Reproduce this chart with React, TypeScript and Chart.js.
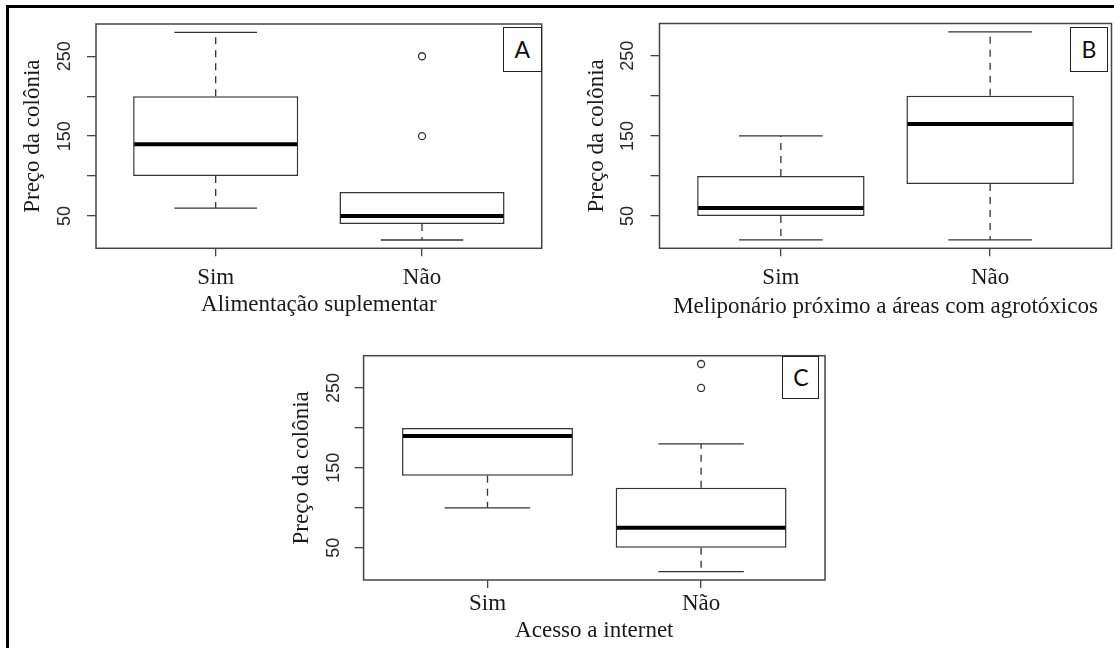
import React, { useEffect, useRef } from "react";
import { Chart, registerables } from "chart.js";

Chart.register(...registerables);

// ---------- data ----------
const categories = ["Sim", "Não"];
const yTickValues = [50, 100, 150, 200, 250];
const yTickLabels = ["50", "", "150", "", "250"];
const yAxisTitle = "Preço da colônia";

// Panel A – Alimentação suplementar
const titleA = "Alimentação suplementar";
const letterA = "A";
const lowA = [60, 20];
const q1A = [100, 40];
const medA = [140, 50];
const q3A = [200, 80];
const highA = [280, 80];
const outA = [[], [150, 250]];

// Panel B – Meliponário próximo a áreas com agrotóxicos
const titleB = "Meliponário próximo a áreas com agrotóxicos";
const letterB = "B";
const lowB = [20, 20];
const q1B = [50, 90];
const medB = [60, 165];
const q3B = [100, 200];
const highB = [150, 280];
const outB = [[], []];

// Panel C – Acesso a internet
const titleC = "Acesso a internet";
const letterC = "C";
const lowC = [100, 20];
const q1C = [140, 50];
const medC = [190, 75];
const q3C = [200, 125];
const highC = [200, 180];
const outC = [[], [250, 280]];

// ---------- styling ----------
const SERIF = "'Liberation Serif', 'Times New Roman', serif";
const SANS = "'Liberation Sans', Arial, sans-serif";
const LINE = "#333";
const AXIS = "#444";
const TEXT = "#1a1a1a";

type Panel = {
  title: string;
  low: number[];
  q1: number[];
  med: number[];
  q3: number[];
  high: number[];
  out: number[][];
};

type Layout = {
  left: number; top: number; width: number; height: number;
  areaLeft: number; areaRight: number; areaTop: number; areaBottom: number;
  yTitlePad: number; xTitlePad: number; xTickPad: number; yTickPad: number;
};

// R-style axis ranges (data range extended by 4%)
function yRange(p: Panel[]) {
  let lo = Infinity, hi = -Infinity;
  p.forEach((d) => {
    d.low.forEach((v) => (lo = Math.min(lo, v)));
    d.high.forEach((v) => (hi = Math.max(hi, v)));
    d.out.forEach((a) => a.forEach((v) => { lo = Math.min(lo, v); hi = Math.max(hi, v); }));
  });
  const pad = (hi - lo) * 0.04;
  return [lo - pad, hi + pad];
}

function whiskerPlugin(panel: Panel) {
  return {
    id: "boxWhiskers",
    afterDatasetsDraw(chart: any) {
      const { ctx, chartArea } = chart;
      const xs = chart.scales.x;
      const ys = chart.scales.y;
      const line = (x1: number, y1: number, x2: number, y2: number) => {
        ctx.beginPath();
        ctx.moveTo(x1, y1);
        ctx.lineTo(x2, y2);
        ctx.stroke();
      };
      ctx.save();
      panel.q1.forEach((_, i) => {
        const cx = xs.getPixelForValue(i + 1);
        const half = xs.getPixelForValue(i + 1.4) - cx;
        const cap = half / 2;
        ctx.strokeStyle = LINE;
        ctx.lineWidth = 1.3;
        if (panel.high[i] > panel.q3[i]) {
          ctx.setLineDash([7, 6]);
          line(cx, ys.getPixelForValue(panel.q3[i]), cx, ys.getPixelForValue(panel.high[i]));
          ctx.setLineDash([]);
          line(cx - cap, ys.getPixelForValue(panel.high[i]), cx + cap, ys.getPixelForValue(panel.high[i]));
        }
        if (panel.low[i] < panel.q1[i]) {
          ctx.setLineDash([7, 6]);
          line(cx, ys.getPixelForValue(panel.q1[i]), cx, ys.getPixelForValue(panel.low[i]));
          ctx.setLineDash([]);
          line(cx - cap, ys.getPixelForValue(panel.low[i]), cx + cap, ys.getPixelForValue(panel.low[i]));
        }
        ctx.strokeStyle = "#000";
        ctx.lineWidth = 4;
        line(cx - half + 1, ys.getPixelForValue(panel.med[i]), cx + half - 1, ys.getPixelForValue(panel.med[i]));
      });
      ctx.strokeStyle = AXIS;
      ctx.lineWidth = 1.5;
      ctx.setLineDash([]);
      ctx.strokeRect(chartArea.left, chartArea.top, chartArea.right - chartArea.left, chartArea.bottom - chartArea.top);
      ctx.restore();
    },
  };
}

function makeConfig(panel: Panel, lay: Layout, yMin: number, yMax: number): any {
  const boxes = panel.q1.map((v, i) => ({ x: i + 1, y: [v, panel.q3[i]] }));
  const outliers: { x: number; y: number }[] = [];
  panel.out.forEach((arr, i) => arr.forEach((v) => outliers.push({ x: i + 1, y: v })));
  const n = categories.length;
  const xPad = n * 0.04;
  return {
    type: "bar",
    data: {
      datasets: [
        {
          type: "bar",
          data: boxes,
          backgroundColor: "#ffffff",
          borderColor: LINE,
          borderWidth: 1.5,
          borderSkipped: false,
          categoryPercentage: 1,
          barPercentage: 0.8,
          grouped: false,
        },
        {
          type: "scatter",
          data: outliers,
          pointStyle: "circle",
          pointRadius: 3.5,
          pointBackgroundColor: "#ffffff",
          pointBorderColor: LINE,
          pointBorderWidth: 1.3,
        },
      ],
    },
    options: {
      animation: false,
      responsive: false,
      events: [],
      layout: {
        padding: {
          left: 0,
          top: lay.areaTop,
          right: lay.width - lay.areaRight,
          bottom: 0,
        },
      },
      plugins: { legend: { display: false }, tooltip: { enabled: false } },
      scales: {
        x: {
          type: "linear",
          offset: false,
          min: 0.5 - xPad,
          max: n + 0.5 + xPad,
          afterBuildTicks: (s: any) => {
            s.ticks = categories.map((_, i) => ({ value: i + 1 }));
          },
          afterFit: (s: any) => {
            s.height = lay.height - lay.areaBottom;
          },
          ticks: {
            callback: (v: number) => categories[Math.round(v) - 1],
            font: { family: SERIF, size: 23, lineHeight: 1 },
            color: TEXT,
            padding: lay.xTickPad,
            autoSkip: false,
            maxRotation: 0,
          },
          grid: { offset: false, drawOnChartArea: false, tickLength: 8, color: AXIS, lineWidth: 1.3 },
          border: { display: false },
          title: {
            display: true,
            text: panel.title,
            font: { family: SERIF, size: 23, lineHeight: 1 },
            color: TEXT,
            padding: { top: 0, bottom: lay.xTitlePad },
          },
        },
        y: {
          type: "linear",
          min: yMin,
          max: yMax,
          afterBuildTicks: (s: any) => {
            s.ticks = yTickValues.map((v) => ({ value: v }));
          },
          afterFit: (s: any) => {
            s.width = lay.areaLeft;
          },
          ticks: {
            callback: (_v: number, i: number) => yTickLabels[i],
            font: { family: SANS, size: 18, lineHeight: 1 },
            color: "#2a2a2a",
            minRotation: 90,
            maxRotation: 90,
            crossAlign: "center",
            padding: lay.yTickPad,
            autoSkip: false,
          },
          grid: { drawOnChartArea: false, tickLength: 9, color: AXIS, lineWidth: 1.3 },
          border: { display: false },
          title: {
            display: true,
            text: yAxisTitle,
            font: { family: SERIF, size: 23, lineHeight: 1 },
            color: TEXT,
            padding: { top: lay.yTitlePad, bottom: 0 },
          },
        },
      },
    },
    plugins: [whiskerPlugin(panel)],
  };
}

const panels: Panel[] = [
  { title: titleA, low: lowA, q1: q1A, med: medA, q3: q3A, high: highA, out: outA },
  { title: titleB, low: lowB, q1: q1B, med: medB, q3: q3B, high: highB, out: outB },
  { title: titleC, low: lowC, q1: q1C, med: medC, q3: q3C, high: highC, out: outC },
];

const layouts: Layout[] = [
  { left: 0, top: 0, width: 560, height: 330, areaLeft: 96, areaRight: 541.7, areaTop: 24, areaBottom: 248.3, yTitlePad: 21, xTitlePad: 13.5, xTickPad: 10, yTickPad: 6.5 },
  { left: 560, top: 0, width: 554, height: 330, areaLeft: 99.5, areaRight: 551.5, areaTop: 23.5, areaBottom: 248.3, yTitlePad: 25.5, xTitlePad: 12, xTickPad: 10, yTickPad: 7 },
  { left: 270, top: 335, width: 580, height: 313, areaLeft: 93.6, areaRight: 555, areaTop: 20.7, areaBottom: 245, yTitlePad: 20.4, xTitlePad: 5.3, xTickPad: 4, yTickPad: 5.5 },
];

const letters = [
  { text: letterA, left: 503, top: 27, width: 38.5, height: 44.5 },
  { text: letterB, left: 1070, top: 27, width: 38, height: 44.7 },
  { text: letterC, left: 782.4, top: 355.7, width: 37, height: 43.6 },
];

function PanelChart({ panel, lay, yMin, yMax }: { panel: Panel; lay: Layout; yMin: number; yMax: number }) {
  const ref = useRef<HTMLCanvasElement | null>(null);
  useEffect(() => {
    if (!ref.current) return;
    const chart = new Chart(ref.current, makeConfig(panel, lay, yMin, yMax));
    return () => chart.destroy();
  }, [panel, lay, yMin, yMax]);
  return (
    <canvas
      ref={ref}
      width={lay.width}
      height={lay.height}
      style={{ position: "absolute", left: lay.left, top: lay.top, width: lay.width, height: lay.height }}
    />
  );
}

export default function App() {
  const [yMin, yMax] = yRange(panels);
  return (
    <div
      style={{
        position: "fixed",
        left: 0,
        top: 0,
        width: 1114,
        height: 648,
        background: "#ffffff",
        overflow: "hidden",
      }}
    >
      <div
        style={{
          position: "absolute",
          left: 6,
          top: 5,
          width: 1200,
          height: 700,
          borderLeft: "3px solid #000",
          borderTop: "3px solid #000",
        }}
      />
      {panels.map((p, i) => (
        <PanelChart key={i} panel={p} lay={layouts[i]} yMin={yMin} yMax={yMax} />
      ))}
      {letters.map((l, i) => (
        <div
          key={"l" + i}
          style={{
            position: "absolute",
            left: l.left,
            top: l.top,
            width: l.width,
            height: l.height,
            boxSizing: "border-box",
            border: "1.3px solid #222",
            background: "#fff",
            display: "flex",
            alignItems: "center",
            justifyContent: "center",
            fontFamily: "Lato, 'Open Sans', sans-serif",
            fontSize: 23,
            color: "#111",
          }}
        >
          {l.text}
        </div>
      ))}
    </div>
  );
}
